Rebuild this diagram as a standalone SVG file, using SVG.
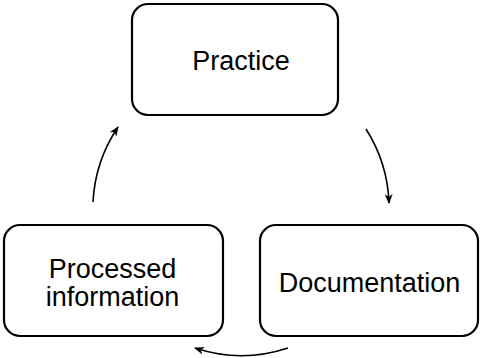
<svg xmlns="http://www.w3.org/2000/svg" width="480" height="358" viewBox="0 0 480 358">
<style>
.box{fill:#fff;stroke:#000;stroke-width:2.2}
.lbl{font-family:"Liberation Sans",Arial,sans-serif;font-size:27px;fill:#000;text-anchor:middle}
.conn{fill:none;stroke:#000;stroke-width:1.6;marker-end:url(#ah)}
</style>
<defs>
<marker id="ah" markerWidth="10" markerHeight="8" refX="9" refY="4" orient="auto" markerUnits="userSpaceOnUse">
<path d="M0,0 L10,4 L0,8 L3,4 Z" fill="#000"/>
</marker>
</defs>
<rect width="480" height="358" fill="#fff"/>
<g id="practice">
<rect class="box" x="132" y="4" width="206" height="111" rx="16"/>
<text class="lbl" x="241" y="70">Practice</text>
</g>
<g id="documentation">
<rect class="box" x="260" y="225" width="218" height="111" rx="16"/>
<text class="lbl" x="369.5" y="292">Documentation</text>
</g>
<g id="processed">
<rect class="box" x="4" y="225" width="219" height="111" rx="16"/>
<text class="lbl" x="112.5" y="277.5">Processed</text>
<text class="lbl" x="112.5" y="305.5">information</text>
</g>
<g id="connectors">
<path class="conn" d="M366,129 A148,148 0 0 1 389,203"/>
<path class="conn" d="M288,348 A148,148 0 0 1 195,348"/>
<path class="conn" d="M93,202 A148,148 0 0 1 118,127"/>
</g>
</svg>
